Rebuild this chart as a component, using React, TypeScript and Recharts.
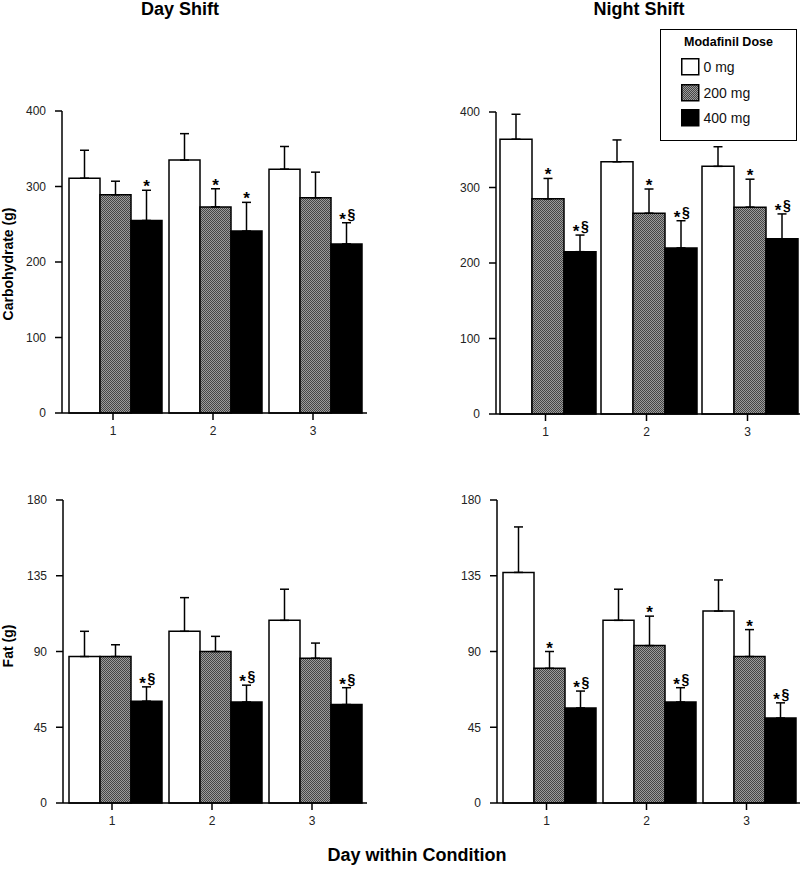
import React from 'react'
import { BarChart, Bar, XAxis, YAxis, ErrorBar, LabelList, Legend } from 'recharts'

// Jours de la condition (axe X commun aux 4 panneaux)
const days = ['1', '2', '3']
const doseNames = ['0 mg', '200 mg', '400 mg']
const doseFills = ['#ffffff', 'url(#dots)', '#000000']

// Glucides (g) - poste de jour
const carbDay0 = [311, 335, 323]
const carbDay200 = [289, 273, 285]
const carbDay400 = [255, 241, 224]
const carbDaySem0 = [37, 35, 30]
const carbDaySem200 = [18, 24, 34]
const carbDaySem400 = [40, 38, 28]
const carbDayMarks200 = ['', '*', '']
const carbDayMarks400 = ['*', '*', '*§']

// Glucides (g) - poste de nuit
const carbNight0 = [364, 334, 328]
const carbNight200 = [285, 266, 274]
const carbNight400 = [215, 220, 232]
const carbNightSem0 = [33, 29, 26]
const carbNightSem200 = [27, 32, 37]
const carbNightSem400 = [22, 36, 33]
const carbNightMarks200 = ['*', '*', '*']
const carbNightMarks400 = ['*§', '*§', '*§']

// Lipides (g) - poste de jour
const fatDay0 = [87, 102, 108.5]
const fatDay200 = [87, 90, 86]
const fatDay400 = [60.5, 60, 58.5]
const fatDaySem0 = [15, 20, 18.5]
const fatDaySem200 = [7, 9, 9]
const fatDaySem400 = [8.5, 10, 10]
const fatDayMarks200 = ['', '', '']
const fatDayMarks400 = ['*§', '*§', '*§']

// Lipides (g) - poste de nuit
const fatNight0 = [137, 108.5, 114]
const fatNight200 = [80, 93.5, 87]
const fatNight400 = [56.5, 60, 50.5]
const fatNightSem0 = [27, 18.5, 18.5]
const fatNightSem200 = [10, 17.5, 16]
const fatNightSem400 = [10, 8.5, 9]
const fatNightMarks200 = ['*', '*', '*']
const fatNightMarks400 = ['*§', '*§', '*§']

const carbTicks = [0, 100, 200, 300, 400]
const fatTicks = [0, 45, 90, 135, 180]

const FONT = '"Liberation Sans", Arial, Helvetica, sans-serif'

const XTick = ({ x, y, payload, shift }: any) => (
  <g>
    <line x1={x + shift} x2={x + shift} y1={y} y2={y + 7} stroke="#000" strokeWidth={1.5} />
    <text x={x + shift} y={y + 13} dy="0.71em" textAnchor="middle" fontSize={12} fill="#222">
      {payload.value}
    </text>
  </g>
)

const YLab = ({ text, cy }: any) => (
  <text
    x={13}
    y={cy}
    transform={`rotate(-90, 13, ${cy})`}
    textAnchor="middle"
    fontSize={14}
    fontWeight="bold"
    fill="#000"
  >
    {text}
  </text>
)

// étoiles / § posées au-dessus de la barre d'erreur
const markContent = (marks: string[], sems: number[]) => (p: any) => {
  const vb = p.viewBox || p
  const i = p.index
  const mk = marks[i]
  if (!mk) return null
  const k = vb.height / p.value
  const cap = vb.y - sems[i] * k
  const cx = vb.x + vb.width / 2
  const withS = mk.includes('§')
  return (
    <g>
      <text x={withS ? cx - 4 : cx} y={cap + 2} textAnchor="middle" fontSize={17} fontWeight="bold" fill="#000">*</text>
      {withS && (
        <text x={cx + 5} y={cap - 4} textAnchor="middle" fontSize={14} fontWeight="bold" fill="#000">§</text>
      )}
    </g>
  )
}

const LegendBox = ({ payload }: any) => {
  const items = payload && payload.length ? payload : doseNames.map((n, i) => ({ value: n, color: doseFills[i] }))
  return (
    <div style={{ position: 'relative', width: 137, height: 112, border: '1.5px solid #000', boxSizing: 'border-box', background: '#fff', fontFamily: FONT }}>
      <div style={{ position: 'absolute', left: 0, right: 0, top: 5, textAlign: 'center', fontWeight: 'bold', fontSize: 12.5, lineHeight: '15px' }}>
        Modafinil Dose
      </div>
      {items.map((e: any, i: number) => (
        <div key={i} style={{ position: 'absolute', left: 19.5, top: 28 + i * 25.5, height: 18, display: 'flex', alignItems: 'center' }}>
          <svg width={19} height={18} style={{ display: 'block' }}>
            <rect x={0.75} y={0.75} width={17} height={16} fill={doseFills[doseNames.indexOf(e.value)] || e.color} stroke="#000" strokeWidth={1.5} />
          </svg>
          <span style={{ marginLeft: 4, fontSize: 14, lineHeight: '18px', color: '#111' }}>{e.value}</span>
        </div>
      ))}
    </div>
  )
}

interface PanelProps {
  left: number
  top: number
  width: number
  height: number
  margin: { top: number; right: number; bottom: number; left: number }
  yWidth: number
  pad: { left: number; right: number }
  shift: number
  max: number
  ticks: number[]
  means: number[][]
  sems: number[][]
  marks200: string[]
  marks400: string[]
  yLabel?: string
  yLabelCy?: number
  legend?: boolean
}

function Panel(p: PanelProps) {
  const data = days.map((d, i) => ({
    day: d,
    m0: p.means[0][i],
    m200: p.means[1][i],
    m400: p.means[2][i],
    e0: [0, p.sems[0][i]],
    e200: [0, p.sems[1][i]],
    e400: [0, p.sems[2][i]],
  }))
  return (
    <div style={{ position: 'absolute', left: p.left, top: p.top }}>
      <BarChart width={p.width} height={p.height} data={data} margin={p.margin} barGap={0} barCategoryGap={3}>
        <XAxis
          dataKey="day"
          height={30}
          padding={p.pad}
          axisLine={{ stroke: '#000', strokeWidth: 1.5 }}
          tickLine={false}
          tickSize={0}
          tickMargin={0}
          tick={(t: any) => <XTick {...t} shift={p.shift} />}
        />
        <YAxis
          type="number"
          width={p.yWidth}
          domain={[0, p.max]}
          ticks={p.ticks}
          interval={0}
          axisLine={{ stroke: '#000', strokeWidth: 1.5 }}
          tickLine={{ stroke: '#000', strokeWidth: 1.5 }}
          tickSize={7}
          tickMargin={9}
          tick={{ fontSize: 12, fill: '#222' }}
          label={p.yLabel ? <YLab text={p.yLabel} cy={p.yLabelCy} /> : undefined}
        />
        {p.legend && (
          <Legend
            layout="vertical"
            align="center"
            verticalAlign="middle"
            content={LegendBox}
            wrapperStyle={{ position: 'absolute', left: 260, top: 29, width: 137, height: 112 }}
          />
        )}
        <Bar dataKey="m0" name={doseNames[0]} fill={doseFills[0]} stroke="#000" strokeWidth={1.5} isAnimationActive={false}>
          <ErrorBar dataKey="e0" direction="y" width={4.5} stroke="#000" strokeWidth={1.5} />
        </Bar>
        <Bar dataKey="m200" name={doseNames[1]} fill={doseFills[1]} stroke="#000" strokeWidth={1.5} isAnimationActive={false}>
          <ErrorBar dataKey="e200" direction="y" width={4.5} stroke="#000" strokeWidth={1.5} />
          <LabelList dataKey="m200" content={markContent(p.marks200, p.sems[1])} />
        </Bar>
        <Bar dataKey="m400" name={doseNames[2]} fill={doseFills[2]} stroke="#000" strokeWidth={1.5} isAnimationActive={false}>
          <ErrorBar dataKey="e400" direction="y" width={4.5} stroke="#000" strokeWidth={1.5} />
          <LabelList dataKey="m400" content={markContent(p.marks400, p.sems[2])} />
        </Bar>
      </BarChart>
    </div>
  )
}

export default function App() {
  return (
    <div style={{ position: 'absolute', left: 0, top: 0, width: 800, height: 875, background: '#fff', fontFamily: FONT, overflow: 'hidden' }}>
      <svg width={0} height={0} style={{ position: 'absolute' }}>
        <defs>
          <pattern id="dots" width={2} height={2} patternUnits="userSpaceOnUse">
            <rect width={2} height={2} fill="#9c9c9c" />
            <rect width={1} height={1} fill="#454545" />
            <rect x={1} y={1} width={1} height={1} fill="#454545" />
          </pattern>
        </defs>
      </svg>

      <Panel
        left={0} top={0} width={400} height={450}
        margin={{ top: 111, right: 33, bottom: 7, left: 0 }}
        yWidth={62} pad={{ left: 4, right: 1 }} shift={-3}
        max={400} ticks={carbTicks}
        means={[carbDay0, carbDay200, carbDay400]}
        sems={[carbDaySem0, carbDaySem200, carbDaySem400]}
        marks200={carbDayMarks200} marks400={carbDayMarks400}
        yLabel="Carbohydrate (g)" yLabelCy={264}
      />
      <Panel
        left={400} top={0} width={400} height={450}
        margin={{ top: 112, right: 0, bottom: 6, left: 0 }}
        yWidth={96} pad={{ left: 1, right: 0 }} shift={-2}
        max={400} ticks={carbTicks}
        means={[carbNight0, carbNight200, carbNight400]}
        sems={[carbNightSem0, carbNightSem200, carbNightSem400]}
        marks200={carbNightMarks200} marks400={carbNightMarks400}
        legend
      />
      <Panel
        left={0} top={450} width={400} height={425}
        margin={{ top: 50, right: 33, bottom: 42, left: 0 }}
        yWidth={63} pad={{ left: 3, right: 1 }} shift={-4}
        max={180} ticks={fatTicks}
        means={[fatDay0, fatDay200, fatDay400]}
        sems={[fatDaySem0, fatDaySem200, fatDaySem400]}
        marks200={fatDayMarks200} marks400={fatDayMarks400}
        yLabel="Fat (g)" yLabelCy={196}
      />
      <Panel
        left={400} top={450} width={400} height={425}
        margin={{ top: 50, right: 0, bottom: 42, left: 0 }}
        yWidth={97} pad={{ left: 3, right: 0 }} shift={-3.5}
        max={180} ticks={fatTicks}
        means={[fatNight0, fatNight200, fatNight400]}
        sems={[fatNightSem0, fatNightSem200, fatNightSem400]}
        marks200={fatNightMarks200} marks400={fatNightMarks400}
      />

      <svg width={800} height={875} style={{ position: 'absolute', left: 0, top: 0, pointerEvents: 'none' }}>
        <text x={180} y={15} textAnchor="middle" fontSize={18} fontWeight="bold" fill="#000">Day Shift</text>
        <text x={639} y={15} textAnchor="middle" fontSize={18} fontWeight="bold" fill="#000">Night Shift</text>
        <text x={417} y={861} textAnchor="middle" fontSize={18} fontWeight="bold" fill="#000">Day within Condition</text>
      </svg>
    </div>
  )
}
